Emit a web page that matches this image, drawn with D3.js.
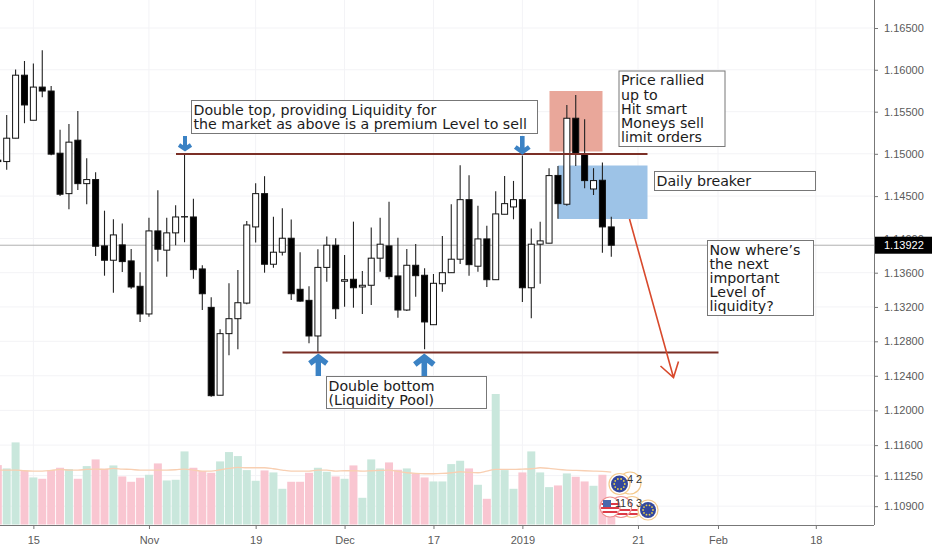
<!DOCTYPE html>
<html lang="en">
  <head>
    <meta charset="utf-8" />
    <title>EURUSD daily</title>
    <script src="https://cdn.jsdelivr.net/npm/d3@7/dist/d3.min.js"></script>
    <style>
      html, body { margin: 0; padding: 0; background: #fff; }
      svg { display: block; }
      .tick-label { font-family: "Liberation Sans", Arial, sans-serif; font-size: 11px; fill: #5a5a5a; }
      .note { font-family: "DejaVu Sans", Verdana, sans-serif; font-size: 14.2px; fill: #1c1c1c; }
    </style>
  </head>
  <body>
    <div id="container"></div>

    <script>
      // candle index runs from -1 (cut off by the left edge) to 68
      const candleIdx = d3.range(-1, 69);
      const opens = [1.14925,
        1.14908, 1.15185, 1.15935, 1.15398, 1.15793, 1.15746, 1.15007, 1.14529, 1.15161, 1.14647,
        1.14695, 1.13914, 1.13746, 1.13926, 1.13738, 1.13441, 1.13118, 1.14090, 1.13864, 1.14067,
        1.14254, 1.14254, 1.13644, 1.13195, 1.12175, 1.12889, 1.13063, 1.13245, 1.14137, 1.14529,
        1.13699, 1.13840, 1.14004, 1.13406, 1.13277, 1.12862, 1.13662, 1.13922, 1.13500, 1.13523,
        1.13433, 1.13453, 1.13770, 1.13914, 1.13562, 1.13164, 1.13687, 1.13570, 1.12993, 1.13471,
        1.13600, 1.13758, 1.14458, 1.13676, 1.13996, 1.13518, 1.14286, 1.14372, 1.14458, 1.13424,
        1.13934, 1.13946, 1.14744, 1.14404, 1.15422, 1.14996, 1.14584, 1.14687, 1.14137];
      const highs = [1.14990,
        1.15461, 1.16003, 1.16105, 1.16074, 1.16232, 1.15805, 1.15284, 1.15355, 1.15509, 1.14948,
        1.14782, 1.14328, 1.14227, 1.14176, 1.13879, 1.13605, 1.14246, 1.14569, 1.14246, 1.14392,
        1.14996, 1.14469, 1.13687, 1.13312, 1.12940, 1.13476, 1.13632, 1.14207, 1.14652, 1.14735,
        1.14258, 1.14357, 1.14223, 1.13840, 1.13441, 1.13875, 1.14023, 1.14004, 1.13808, 1.14199,
        1.13620, 1.14129, 1.14246, 1.14434, 1.14011, 1.13879, 1.13937, 1.13652, 1.13585, 1.14031,
        1.14404, 1.14865, 1.14747, 1.14387, 1.14152, 1.14557, 1.14738, 1.14679, 1.14979, 1.14117,
        1.14199, 1.14830, 1.14857, 1.15580, 1.15698, 1.15410, 1.14830, 1.14896, 1.14258];
      const lows = [1.14850,
        1.14810, 1.15185, 1.15363, 1.15398, 1.15671, 1.14984, 1.14501, 1.14345, 1.14573, 1.14404,
        1.13797, 1.13565, 1.13366, 1.13609, 1.13413, 1.13025, 1.13086, 1.13730, 1.13554, 1.13922,
        1.13957, 1.13530, 1.13164, 1.12158, 1.12175, 1.12639, 1.12708, 1.13230, 1.13953, 1.13600,
        1.13659, 1.13800, 1.13280, 1.13260, 1.12778, 1.12680, 1.13495, 1.13060, 1.13202, 1.13191,
        1.13118, 1.13222, 1.13612, 1.13523, 1.13075, 1.13152, 1.13319, 1.12708, 1.12993, 1.13377,
        1.13600, 1.13703, 1.13565, 1.13612, 1.13433, 1.13518, 1.14286, 1.14227, 1.13257, 1.13068,
        1.13471, 1.13946, 1.14234, 1.14387, 1.14857, 1.14593, 1.14513, 1.13835, 1.13788];
      const closes = [1.14908,
        1.15185, 1.15935, 1.15580, 1.15793, 1.15746, 1.14996, 1.14522, 1.15138, 1.14647, 1.14695,
        1.13910, 1.13746, 1.14043, 1.13730, 1.13433, 1.13118, 1.14090, 1.13875, 1.14067, 1.14254,
        1.14258, 1.13636, 1.13354, 1.12170, 1.12889, 1.13063, 1.13249, 1.14160, 1.14529, 1.13699,
        1.13840, 1.14004, 1.13354, 1.13268, 1.12862, 1.13662, 1.13922, 1.13179, 1.13518, 1.13424,
        1.13453, 1.13770, 1.13934, 1.13554, 1.13164, 1.13687, 1.13565, 1.13025, 1.13476, 1.13600,
        1.13758, 1.14458, 1.13694, 1.13996, 1.13518, 1.14290, 1.14411, 1.14458, 1.13424, 1.13934,
        1.13973, 1.14742, 1.14411, 1.15422, 1.15007, 1.14683, 1.14683, 1.14137, 1.13922];
      // volume in arbitrary units, no scale shown on the chart
      const volumes = [178,
        168, 246, 161, 141, 137, 163, 170, 166, 137, 175,
        195, 167, 177, 144, 128, 140, 149, 183, 132, 134,
        219, 170, 160, 155, 189, 217, 205, 163, 131, 162,
        156, 107, 128, 128, 155, 170, 158, 144, 137, 177,
        80, 195, 168, 186, 164, 168, 153, 141, 129, 129,
        181, 191, 168, 119, 77, 391, 163, 107, 156, 219,
        156, 112, 117, 153, 143, 129, 116, 149, 70];
      const volumeMA = [163,
        163, 163, 161, 160, 160, 162, 165, 163, 163, 165,
        166, 165, 168, 166, 165, 163, 163, 163, 163, 164,
        166, 163, 160, 160, 164, 168, 171, 170, 170, 170,
        167, 163, 160, 160, 160, 163, 163, 160, 161, 161,
        160, 161, 162, 163, 159, 155, 153, 152, 152, 153,
        155, 158, 156, 155, 160, 165, 165, 165, 166, 167,
        170, 168, 165, 163, 162, 161, 160, 159, 157];

      const priceTicks = [1.165, 1.16, 1.155, 1.15, 1.145, 1.14, 1.136, 1.132, 1.128, 1.124, 1.12, 1.116, 1.1125, 1.109];
      const lastPrice = 1.13922;
      const dateTickIdx = [3, 16, 28, 38, 48, 58, 71, 80, 91];
      const dateTickLabels = ["15", "Nov", "19", "Dec", "17", "2019", "21", "Feb", "18"];

      const noteTop = ["Double top, providing Liquidity for", "the market as above is a premium Level to sell"];
      const noteBottom = ["Double bottom", "(Liquidity Pool)"];
      const noteRally = ["Price rallied", "up to", "Hit smart", "Moneys sell", "limit orders"];
      const noteBreaker = ["Daily breaker"];
      const noteNext = ["Now where\u2019s", "the next", "important", "Level of", "liquidity?"];

      const width = 932;
      const height = 550;
      const axisX = 874;
      const axisY = 525;

      const svg = d3.select("#container").append("svg").attr("width", width).attr("height", height);

      const x = d3.scaleLinear().domain([0, 68]).range([6.7, 611.3]);
      // the price axis is logarithmic
      const y = d3.scaleLog().domain([1.165, 1.109]).range([28, 506.2]);
      const yVol = d3.scaleLinear().domain([0, 391]).range([axisY - 0.5, 394]);

      // grid
      const grid = svg.append("g").attr("stroke", "#f3f3f6").attr("stroke-width", 1);
      grid.selectAll("line.h").data(priceTicks).enter().append("line").attr("class", "h")
        .attr("x1", 0).attr("x2", axisX).attr("y1", (d) => y(d)).attr("y2", (d) => y(d));
      grid.selectAll("line.v").data(dateTickIdx).enter().append("line").attr("class", "v")
        .attr("x1", (d) => x(d)).attr("x2", (d) => x(d)).attr("y1", 0).attr("y2", axisY);

      // volume
      const isUp = (i) => closes[i] >= opens[i];
      svg.append("g").selectAll("rect").data(candleIdx).enter().append("rect")
        .attr("x", (d) => x(d) - 4)
        .attr("width", 8)
        .attr("y", (d, i) => yVol(volumes[i]))
        .attr("height", (d, i) => yVol(0) - yVol(volumes[i]))
        .attr("fill", (d, i) => (isUp(i) ? "#c9e7dc" : "#f9c6d1"));

      const maLine = d3.line().x((d) => x(d)).y((d, i) => yVol(volumeMA[i])).curve(d3.curveMonotoneX);
      svg.append("path").datum(candleIdx).attr("d", maLine)
        .attr("fill", "none").attr("stroke", "#f8cfb2").attr("stroke-width", 1.3);

      // drawn zones, under the candles
      svg.append("rect").attr("x", 549.5).attr("y", 91).attr("width", 53).attr("height", 60.5).attr("fill", "#e9a79a");
      svg.append("rect").attr("x", 558).attr("y", 165.5).attr("width", 89.5).attr("height", 53.5).attr("fill", "#9dc3e7");

      // last price line
      svg.append("line").attr("x1", 0).attr("x2", axisX)
        .attr("y1", y(lastPrice)).attr("y2", y(lastPrice))
        .attr("stroke", "#b0b0b0").attr("stroke-width", 1);

      // candles
      const candles = svg.append("g");
      candles.selectAll("line").data(candleIdx).enter().append("line")
        .attr("x1", (d) => x(d)).attr("x2", (d) => x(d))
        .attr("y1", (d, i) => y(highs[i])).attr("y2", (d, i) => y(lows[i]))
        .attr("stroke", "#222").attr("stroke-width", 1.1);
      candles.selectAll("rect").data(candleIdx).enter().append("rect")
        .attr("x", (d) => x(d) - 3)
        .attr("width", 6)
        .attr("y", (d, i) => y(Math.max(opens[i], closes[i])))
        .attr("height", (d, i) => Math.abs(y(opens[i]) - y(closes[i])))
        .attr("fill", (d, i) => (isUp(i) ? "#fff" : "#000"))
        .attr("stroke", "#111").attr("stroke-width", 1);

      // support / resistance lines
      svg.append("line").attr("x1", 176).attr("x2", 647.5).attr("y1", 154).attr("y2", 154)
        .attr("stroke", "#7b2f26").attr("stroke-width", 1.8);
      svg.append("line").attr("x1", 282.5).attr("x2", 718.5).attr("y1", 352.5).attr("y2", 352.5)
        .attr("stroke", "#7b2f26").attr("stroke-width", 1.8);

      // red projection arrow
      svg.append("path").attr("d", "M629.5,219L673.5,377.5M660.5,366L673.5,377.5L678.5,361.5")
        .attr("fill", "none").attr("stroke", "#d8492c").attr("stroke-width", 1.6);

      // blue arrows, tip at (cx, tipY), dir 1 points down, -1 points up
      function blueArrow(cx, tipY, len, half, dir, sw) {
        svg.append("path")
          .attr("d", `M${cx},${tipY - dir * len}L${cx},${tipY - dir * 3}M${cx - half},${tipY - dir * half}L${cx},${tipY - dir * 2}L${cx + half},${tipY - dir * half}`)
          .attr("fill", "none").attr("stroke", "#3b82c4").attr("stroke-width", sw);
      }
      blueArrow(185, 151, 15, 6, 1, 4);
      blueArrow(522.3, 154, 18, 7, 1, 4.6);
      blueArrow(318.3, 355, 21, 8.5, -1, 5.4);
      blueArrow(424.3, 355, 21, 9.5, -1, 5.6);

      // text boxes
      function noteBox(lines, bx, by, bw, bh, firstBase, step) {
        const g = svg.append("g");
        g.append("rect").attr("x", bx).attr("y", by).attr("width", bw).attr("height", bh)
          .attr("fill", "#fff").attr("stroke", "#777").attr("stroke-width", 1);
        g.selectAll("text").data(lines).enter().append("text").attr("class", "note")
          .attr("x", bx + 2).attr("y", (d, i) => firstBase + i * step).text((d) => d);
      }
      noteBox(noteTop, 191.5, 100.5, 346, 33, 115, 14);
      noteBox(noteBottom, 326.5, 376.5, 160, 32, 391, 14.2);
      noteBox(noteRally, 619, 71, 106, 75.5, 85.3, 14.2);
      noteBox(noteBreaker, 654.5, 171.5, 161, 19, 186, 14);
      noteBox(noteNext, 707.5, 240.5, 106, 75, 254.7, 14.1);

      // event flags
      function ring(cx, cy, r, color) {
        svg.append("circle").attr("cx", cx).attr("cy", cy).attr("r", r).attr("fill", "#fff").attr("stroke", color).attr("stroke-width", 1.2);
      }
      function euFlag(cx, cy, r) {
        ring(cx, cy, r + 2, "#f4c98c");
        svg.append("circle").attr("cx", cx).attr("cy", cy).attr("r", r).attr("fill", "#33469c");
        svg.append("g").selectAll("circle").data(d3.range(10)).enter().append("circle")
          .attr("cx", (d) => cx + r * 0.62 * Math.cos((d * Math.PI) / 5))
          .attr("cy", (d) => cy + r * 0.62 * Math.sin((d * Math.PI) / 5))
          .attr("r", 0.9).attr("fill", "#e8d24a");
      }
      function stripes(cx, cy, r, rows) {
        rows.forEach((dy) => {
          const half = Math.sqrt(Math.max(r * r - dy * dy, 0));
          svg.append("rect").attr("x", cx - half).attr("y", cy + dy - 1).attr("width", 2 * half).attr("height", 2).attr("fill", "#dd3a46");
        });
      }
      ring(630, 483, 11, "#f4c98c");
      euFlag(619.5, 484, 8.5);
      ring(632, 507, 10.5, "#f4c98c");
      stripes(632, 507, 9, [3, 7]);
      ring(621, 507, 10.5, "#ef8f8f");
      stripes(621, 507, 9.5, [3, 7]);
      ring(610, 507, 10, "#ef8f8f");
      stripes(610, 507, 9, [-3, 1, 5]);
      svg.append("rect").attr("x", 603).attr("y", 500).attr("width", 8).attr("height", 7).attr("fill", "#4a68ad");
      euFlag(648, 510, 8);

      svg.append("g").selectAll("text").data([["4", 630, 483], ["2", 639, 483], ["1", 618, 507], ["1", 623, 507], ["6", 630, 507], ["3", 639, 507]])
        .enter().append("text")
        .attr("x", (d) => d[1]).attr("y", (d) => d[2])
        .attr("text-anchor", "middle")
        .attr("font-family", "Liberation Sans, Arial, sans-serif").attr("font-size", 11).attr("fill", "#333")
        .text((d) => d[0]);

      // axes
      const rightAxis = d3.axisRight(y).tickValues(priceTicks).tickFormat(d3.format(".5f")).tickSize(4).tickPadding(6);
      const gy = svg.append("g").attr("transform", `translate(${axisX},0)`).call(rightAxis);
      gy.select(".domain").attr("d", `M0.5,0V${axisY}`).attr("stroke", "#777").attr("stroke-width", 1);
      gy.selectAll(".tick line").attr("stroke", "#777");
      gy.selectAll(".tick text").attr("class", "tick-label").attr("fill", null);

      const bottomAxis = d3.axisBottom(x).tickValues(dateTickIdx).tickFormat((d, i) => dateTickLabels[i]).tickSize(4).tickPadding(7);
      const gx = svg.append("g").attr("transform", `translate(0,${axisY})`).call(bottomAxis);
      gx.select(".domain").attr("d", `M0,0.5H${axisX}`).attr("stroke", "#777").attr("stroke-width", 1);
      gx.selectAll(".tick line").attr("stroke", "#777");
      gx.selectAll(".tick text").attr("class", "tick-label").attr("fill", null);

      // last price label
      svg.append("rect").attr("x", axisX + 1).attr("y", y(lastPrice) - 8.5).attr("width", width - axisX - 1).attr("height", 17).attr("fill", "#000");
      svg.append("text").attr("class", "tick-label").attr("x", 884).attr("y", y(lastPrice) + 4)
        .style("fill", "#fff").text(d3.format(".5f")(lastPrice));
    </script>
  </body>
</html>
